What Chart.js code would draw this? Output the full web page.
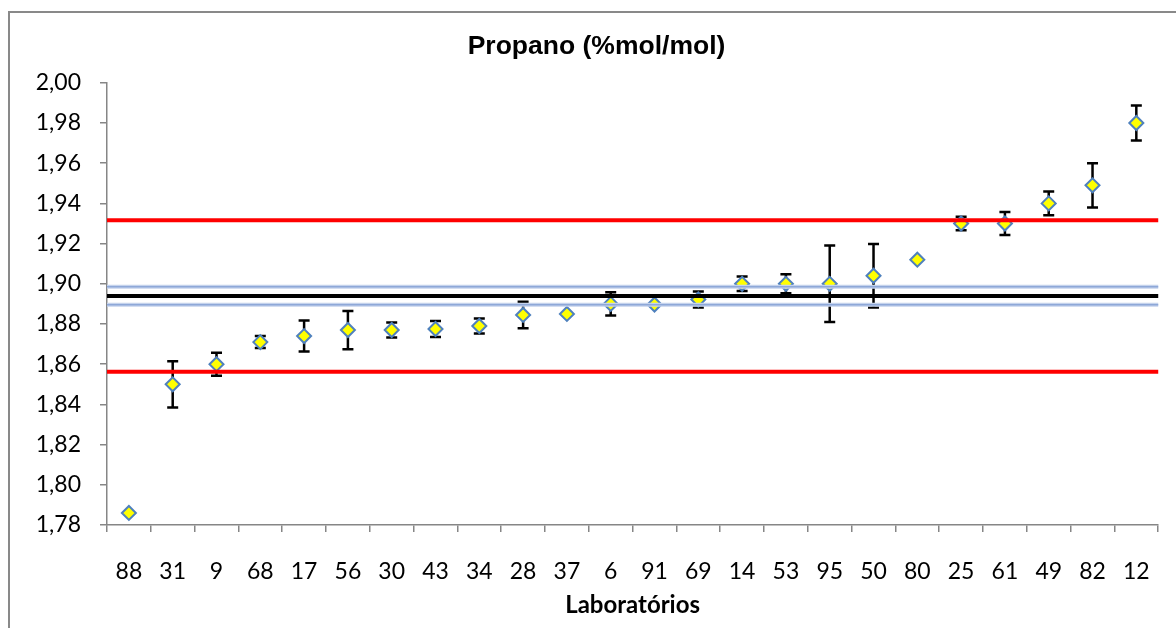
<!DOCTYPE html>
<html>
<head>
<meta charset="utf-8">
<script src="https://cdn.jsdelivr.net/npm/chart.js@4.4.0/dist/chart.umd.min.js"></script>
<style>
  html, body { margin: 0; padding: 0; background: #fff; }
  #wrap { width: 1176px; height: 628px; }
</style>
</head>
<body>
<div id="wrap"><canvas id="chart" width="1176" height="628"></canvas></div>
<script>
// laboratórios ordenados pelo resultado
const labs = ['88', '31', '9', '68', '17', '56', '30', '43', '34', '28', '37', '6',
              '91', '69', '14', '53', '95', '50', '80', '25', '61', '49', '82', '12'];
const results = [1.786, 1.850, 1.860, 1.871, 1.874, 1.877, 1.877, 1.8775, 1.879, 1.8845, 1.885, 1.890,
                 1.8897, 1.8922, 1.900, 1.900, 1.900, 1.904, 1.912, 1.930, 1.930, 1.940, 1.949, 1.980];
// incerteza expandida (meia largura da barra)
const uncertainty = [0, 0.0115, 0.0057, 0.003, 0.0077, 0.0095, 0.0037, 0.004, 0.0037, 0.0066, 0, 0.0058,
                     0, 0.004, 0.0036, 0.0047, 0.019, 0.0158, 0, 0.0034, 0.0057, 0.0059, 0.011, 0.0087];

const refValue = 1.8939;           // valor de referência
const refBand = [1.8896, 1.8985];  // incerteza do valor de referência
const limits = [1.8562, 1.9316];   // limites de aceitação

const yMin = 1.78, yMax = 2.00, yStep = 0.02;

const axisGray = '#868686';

// moldura cinza em volta do gráfico
const frame = {
  id: 'frame',
  beforeDraw(chart) {
    const ctx = chart.ctx;
    ctx.save();
    ctx.strokeStyle = '#898989';
    ctx.lineWidth = 2;
    ctx.strokeRect(9, 12, chart.width + 20, chart.height + 20);
    ctx.restore();
  }
};

const errorBars = {
  id: 'errorBars',
  beforeDatasetsDraw(chart) {
    const meta = chart.getDatasetMeta(0);
    const y = chart.scales.y;
    const ctx = chart.ctx;
    ctx.save();
    ctx.strokeStyle = '#000';
    ctx.lineWidth = 2.5;
    meta.data.forEach((pt, i) => {
      const u = uncertainty[i];
      if (!u) return;
      const top = y.getPixelForValue(results[i] + u);
      const bot = y.getPixelForValue(results[i] - u);
      ctx.beginPath();
      ctx.moveTo(pt.x, top); ctx.lineTo(pt.x, bot);
      ctx.moveTo(pt.x - 5.5, top); ctx.lineTo(pt.x + 5.5, top);
      ctx.moveTo(pt.x - 5.5, bot); ctx.lineTo(pt.x + 5.5, bot);
      ctx.stroke();
    });
    ctx.restore();
  }
};

const refLines = {
  id: 'refLines',
  afterDatasetsDraw(chart) {
    const { ctx, chartArea: a, scales: { y } } = chart;
    const line = (v, color, w) => {
      const py = y.getPixelForValue(v);
      ctx.beginPath();
      ctx.strokeStyle = color;
      ctx.lineWidth = w;
      ctx.moveTo(a.left, py);
      ctx.lineTo(a.right, py);
      ctx.stroke();
    };
    ctx.save();
    refBand.forEach(v => { line(v, '#c4d2ec', 4); line(v, '#8ea8d8', 1.5); });
    line(refValue, '#000', 4);
    limits.forEach(v => line(v, '#ff0000', 4));
    ctx.restore();
  }
};

new Chart(document.getElementById('chart'), {
  type: 'line',
  data: {
    labels: labs,
    datasets: [{
      data: results,
      showLine: false,
      pointStyle: 'rectRot',
      pointRadius: 7,
      pointHoverRadius: 7,
      pointBackgroundColor: '#ffff00',
      pointBorderColor: '#4f81bd',
      pointBorderWidth: 2
    }]
  },
  options: {
    responsive: false,
    animation: false,
    layout: { padding: { left: 33, right: 16, top: 0, bottom: 0 } },
    plugins: {
      legend: { display: false },
      tooltip: { enabled: false },
      title: {
        display: true,
        text: 'Propano (%mol/mol)',
        color: '#000',
        font: { family: 'Liberation Sans', size: 26.5, weight: 'bold' },
        padding: { top: 31, bottom: 20 }
      }
    },
    scales: {
      x: {
        type: 'category',
        offset: true,
        afterFit(scale) { scale.height = 103; },
        grid: { offset: true, drawOnChartArea: false, drawTicks: true, tickLength: 7, color: axisGray, lineWidth: 1.5 },
        border: { color: axisGray, width: 1.5 },
        ticks: { color: '#000', padding: 26, maxRotation: 0, autoSkip: false,
                 font: { family: 'Lato', size: 23 } },
        title: {
          display: true,
          text: 'Laboratórios',
          color: '#000',
          font: { family: 'Lato', size: 24, weight: 'bold' },
          padding: { top: 9, bottom: 8 }
        }
      },
      y: {
        min: yMin,
        max: yMax,
        afterFit(scale) { scale.width = 74; },
        grid: { drawOnChartArea: false, drawTicks: true, tickLength: 7, color: axisGray, lineWidth: 1.5 },
        border: { color: axisGray, width: 1.5 },
        ticks: {
          stepSize: yStep,
          color: '#000',
          padding: 19,
          font: { family: 'Lato', size: 23 },
          callback: v => v.toFixed(2).replace('.', ',')
        }
      }
    }
  },
  plugins: [frame, errorBars, refLines]
});
</script>
</body>
</html>
